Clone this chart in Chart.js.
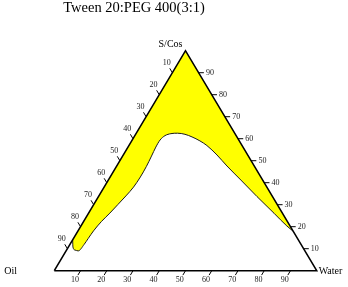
<!DOCTYPE html>
<html>
<head>
<meta charset="utf-8">
<script src="https://cdn.jsdelivr.net/npm/chart.js@4.4.1/dist/chart.umd.min.js"></script>
<style>
  html, body { margin: 0; padding: 0; background: #fff; }
  #wrap { width: 348px; height: 287px; }
</style>
</head>
<body>
<div id="wrap"><canvas id="ternChart"></canvas></div>
<script>
const titleText = 'Tween 20:PEG 400(3:1)';
const vertexNames = ['Oil', 'S/Cos', 'Water'];
const tickValues = [10, 20, 30, 40, 50, 60, 70, 80, 90];

// lower boundary of the yellow region, from the Oil/S-Cos edge to the S-Cos/Water edge (%)
const oilPct   = [86.0, 87.5, 87.4, 86.4, 82.7, 79.8, 76.0, 70.8, 65.7, 60.7, 55.7, 50.8, 45.9, 41.2, 36.9, 33.2,
                  30.0, 27.1, 24.4, 21.8, 19.2, 17.1, 15.0, 13.4, 11.7, 10.4, 8.3, 5.9, 3.2, 1.2, 0.0];
const surfPct  = [14.0, 10.8, 9.4, 9.0, 11.9, 14.6, 18.1, 22.4, 26.2, 30.1, 34.0, 38.0, 42.6, 47.4, 52.1, 56.2,
                  59.4, 61.4, 62.3, 62.5, 62.0, 60.8, 59.0, 56.9, 52.6, 47.6, 41.2, 33.7, 26.1, 20.3, 18.0];
const waterPct = [0.0, 1.7, 3.2, 4.6, 5.4, 5.6, 5.9, 6.8, 8.1, 9.2, 10.3, 11.2, 11.5, 11.4, 11.0, 10.6,
                  10.6, 11.5, 13.3, 15.7, 18.8, 22.1, 26.0, 29.7, 35.7, 42.0, 50.5, 60.4, 70.7, 78.5, 82.0];

// ternary (oil, surf, water) -> plot coordinates
function tern(oil, surf, water) {
    const s = oil + surf + water;
    return { x: (water + surf / 2) * 100 / s, y: surf * 100 / s };
}

const innerCurve = oilPct.map((o, i) => tern(o, surfPct[i], waterPct[i]));
const last = oilPct.length - 1;
// outer edge of the region follows the triangle sides through the S/Cos apex
const outerEdge = [
    tern(oilPct[0], surfPct[0], waterPct[0]),
    tern(0, 100, 0),
    tern(oilPct[last], surfPct[last], waterPct[last])
];
const frame = [tern(100, 0, 0), tern(0, 0, 100), tern(0, 100, 0), tern(100, 0, 0)];

const tickLen = 2;
const labelOff = 4.3;
const tickSegs = [];
tickValues.forEach(v => {
    tickSegs.push(tern(100 - v, 0, v), tern(100 - v + tickLen, -tickLen, v), {x: null, y: null});
    tickSegs.push(tern(0, v, 100 - v), tern(-tickLen, v, 100 - v + tickLen), {x: null, y: null});
    tickSegs.push(tern(v, 100 - v, 0), tern(v, 100 - v + tickLen, -tickLen), {x: null, y: null});
});

const textPlugin = {
    id: 'ternText',
    afterDraw(chart) {
        const ctx = chart.ctx;
        const sx = chart.scales.x, sy = chart.scales.y;
        const px = p => [sx.getPixelForValue(p.x), sy.getPixelForValue(p.y)];
        ctx.save();
        ctx.fillStyle = '#000';

        ctx.font = '14.5px "Liberation Serif"';
        ctx.textAlign = 'center';
        ctx.textBaseline = 'alphabetic';
        ctx.fillText(titleText, 134, 12);

        ctx.font = '10px "Liberation Serif"';
        const [ox, oy] = px(frame[0]);
        const [wx, wy] = px(frame[1]);
        const [tx, ty] = px(frame[2]);
        ctx.textAlign = 'left';
        ctx.fillText(vertexNames[0], ox - 50, oy + 3);
        ctx.fillText(vertexNames[2], wx + 2, wy + 3);
        ctx.textAlign = 'center';
        ctx.fillText(vertexNames[1], tx - 15, ty - 4);

        ctx.font = '8px "Liberation Serif"';
        ctx.fillStyle = '#222';
        ctx.textBaseline = 'middle';
        tickValues.forEach(v => {
            let p = px(tern(100 - v + labelOff, -labelOff, v));
            ctx.fillText(String(v), p[0], p[1]);
            p = px(tern(-labelOff, v, 100 - v + labelOff));
            ctx.fillText(String(v), p[0], p[1]);
            p = px(tern(v, 100 - v + labelOff, -labelOff));
            ctx.fillText(String(v), p[0], p[1]);
        });
        ctx.restore();
    }
};

const ctx = document.getElementById('ternChart').getContext('2d');
const ternChart = new Chart(ctx, {
    type: 'scatter',
    data: {
        datasets: [
            {
                data: outerEdge,
                showLine: true,
                borderWidth: 0,
                borderColor: 'rgba(0,0,0,0)',
                backgroundColor: '#ffff00',
                pointRadius: 0,
                fill: '+1',
                order: 3
            },
            {
                data: innerCurve,
                showLine: true,
                borderWidth: 1,
                borderColor: '#1a1a1a',
                pointRadius: 0,
                cubicInterpolationMode: 'monotone',
                fill: false,
                order: 2
            },
            {
                data: frame,
                showLine: true,
                borderWidth: 1.6,
                borderColor: '#000',
                pointRadius: 0,
                fill: false,
                order: 1
            },
            {
                data: tickSegs,
                showLine: true,
                spanGaps: false,
                borderWidth: 1,
                borderColor: '#000',
                pointRadius: 0,
                fill: false,
                order: 0
            }
        ]
    },
    options: {
        responsive: true,
        maintainAspectRatio: false,
        animation: false,
        layout: { padding: 0 },
        plugins: {
            legend: { display: false },
            tooltip: { enabled: false },
            title: { display: false }
        },
        scales: {
            x: { type: 'linear', display: false, min: -20.69, max: 111.93 },
            y: { type: 'linear', display: false, min: -7.41, max: 123.05 }
        }
    },
    plugins: [textPlugin]
});
</script>
</body>
</html>
